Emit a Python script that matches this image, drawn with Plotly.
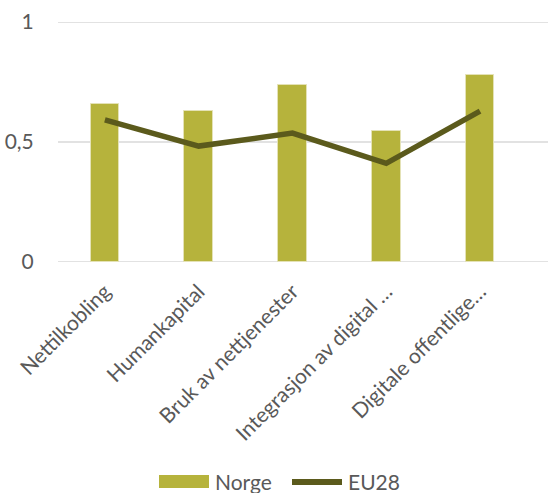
import plotly.graph_objects as go

categories = ["Nettilkobling", "Humankapital", "Bruk av nettjenester",
              "Integrasjon av digital …", "Digitale offentlige…"]
norge = [0.658, 0.630, 0.736, 0.546, 0.779]
eu28 = [0.592, 0.483, 0.537, 0.411, 0.629]
y_ticks = [0, 0.5, 1]
y_tick_labels = ["0", "0,5", "1"]

BAR = "#B6B33C"
LINE = "#5B5A1C"
TEXT = "#595959"
FONT = "Lato"
FS = 21

x = list(range(len(categories)))

fig = go.Figure()
fig.add_trace(go.Bar(
    x=x, y=norge, name="Norge", width=0.306,
    marker=dict(color=BAR, line=dict(color="#E4E2B6", width=1)),
))
fig.add_trace(go.Scatter(
    x=x, y=eu28, name="EU28", mode="lines",
    line=dict(color=LINE, width=5.5),
))

# horizontal gridlines, including the ones on the plot edges
for v in y_ticks:
    fig.add_shape(type="line", xref="paper", yref="y", x0=0, x1=1, y0=v, y1=v,
                  line=dict(color="#D9D9D9", width=1.5), layer="below")

# legend drawn below the plot area
fig.add_shape(type="rect", xref="paper", yref="paper",
              x0=(159 - 58) / 490, x1=(209 - 58) / 490,
              y0=-(475 - 262) / 240, y1=-(488 - 262) / 240,
              fillcolor=BAR, line=dict(width=0))
fig.add_shape(type="line", xref="paper", yref="paper",
              x0=(292 - 58) / 490, x1=(342 - 58) / 490,
              y0=-(482 - 262) / 240, y1=-(482 - 262) / 240,
              line=dict(color=LINE, width=6))
fig.add_annotation(text="Norge", xref="paper", yref="paper",
                   x=(213 - 58) / 490, y=-(482 - 262) / 240,
                   xanchor="left", yanchor="middle", showarrow=False,
                   font=dict(family=FONT, size=FS, color=TEXT))
fig.add_annotation(text="EU28", xref="paper", yref="paper",
                   x=(346 - 58) / 490, y=-(482 - 262) / 240,
                   xanchor="left", yanchor="middle", showarrow=False,
                   font=dict(family=FONT, size=FS, color=TEXT))

fig.update_layout(
    width=548, height=493,
    margin=dict(l=58, r=0, t=22, b=231),
    paper_bgcolor="white", plot_bgcolor="white",
    showlegend=False,
    font=dict(family=FONT, size=FS, color=TEXT),
    xaxis=dict(
        range=[-0.5, 4.725], tickmode="array", tickvals=x, ticktext=categories,
        tickangle=-45, showgrid=False, zeroline=False, showline=False,
        ticks="outside", ticklen=8, tickcolor="rgba(0,0,0,0)",
        tickfont=dict(family=FONT, size=FS, color=TEXT),
    ),
    yaxis=dict(
        range=[0, 1], tickmode="array", tickvals=y_ticks, ticktext=y_tick_labels,
        showgrid=False, zeroline=False, showline=False,
        ticks="outside", ticklen=19, tickcolor="rgba(0,0,0,0)",
        tickfont=dict(family=FONT, size=FS, color=TEXT),
    ),
    bargap=0,
)

fig.write_html("out.html")
